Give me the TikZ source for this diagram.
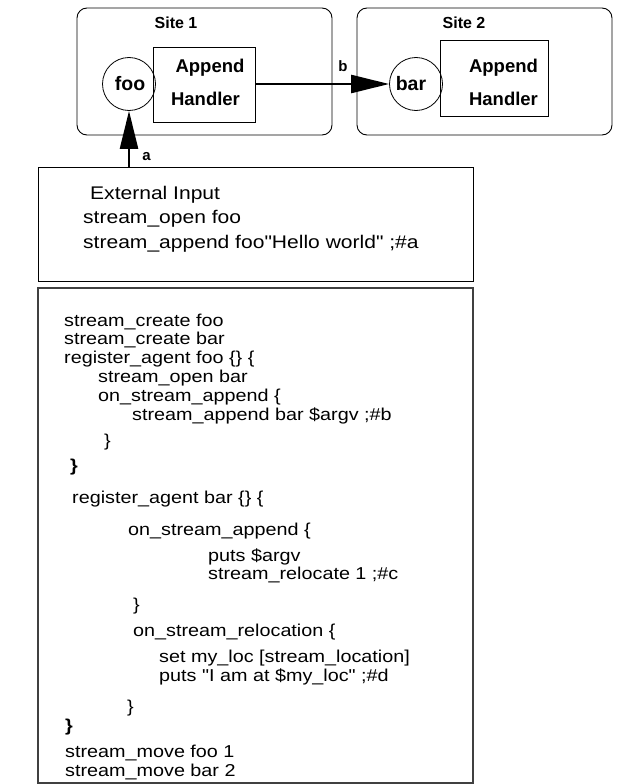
\documentclass[tikz,border=0pt]{standalone}
\usepackage{fontspec}
\setmainfont{Liberation Sans}
\newfontfamily\codefont[FakeStretch=1.15]{Liberation Sans}
\usetikzlibrary{arrows.meta}

\tikzset{
  site/.style={draw, line width=0.9pt, rounded corners=10pt},
  handler/.style={draw, line width=0.9pt},
  stream/.style={draw, circle, line width=0.8pt, minimum size=53pt, inner sep=0pt},
  lbl/.style={font=\bfseries\fontsize{16}{18}\selectfont, inner sep=0pt, anchor=base},
  hlbl/.style={font=\bfseries\fontsize{18.5}{20}\selectfont, inner sep=0pt, anchor=base},
  flow/.style={line width=2.4pt, -{Triangle[length=38pt, width=18pt]}},
  panel/.style={draw, line width=1pt},
  codepanel/.style={draw=black!75, line width=1.4pt},
  ext/.style={font=\codefont\fontsize{18.3}{20}\selectfont, inner sep=0pt, anchor=base west},
  code/.style={font=\codefont\fontsize{17.2}{18}\selectfont, inner sep=0pt, anchor=base west},
}

\begin{document}
\begin{tikzpicture}[x=1pt, y=-1pt]
\useasboundingbox (0,0) rectangle (636,784);

% sites
\draw[site] (77,8) rectangle (332,135);
\draw[site] (357,8) rectangle (612,135);
\node[lbl] (s1) at (176,28.3) {Site 1};
\node[lbl] (s2) at (464,28.3) {Site 2};

% append handlers
\node[handler, minimum width=102pt, minimum height=75pt] (h1) at (204,84.5) {};
\node[handler, minimum width=108pt, minimum height=76pt] (h2) at (494,78) {};
\node[hlbl] (h1a) at (210,72.7) {Append};
\node[hlbl] (h1b) at (205.5,105) {Handler};
\node[hlbl] (h2a) at (503.5,72.7) {Append};
\node[hlbl] (h2b) at (503.5,105) {Handler};

% streams
\node[stream] (foo) at (129,84) {};
\node[stream] (bar) at (416,84) {};
\node[hlbl, font=\bfseries\fontsize{19.5}{20}\selectfont] (fool) at (130,90.7) {foo};
\node[hlbl, font=\bfseries\fontsize{19.5}{20}\selectfont] (barl) at (411,90.7) {bar};

% external input panel
\node[panel, minimum width=435pt, minimum height=114pt] (ext) at (255.5,224) {};

% flows
\draw[flow] (h1.east |- foo.center) -- (bar.west);
\draw[flow] (ext.north -| foo.center) -- (foo.south);
\node[lbl, font=\bfseries\fontsize{15}{16}\selectfont] (lb) at (343,71.7) {b};
\node[lbl, font=\bfseries\fontsize{15}{16}\selectfont] (la) at (146.5,160) {a};

% external input text
\node[ext] (e1) at (90,199) {External Input};
\node[ext] (e2) at (83,223) {stream\_open foo};
\node[ext] (e3) at (83,248) {stream\_append foo"Hello world" ;\#a};

% script panel
\node[codepanel, minimum width=435pt, minimum height=495pt] (script) at (255.5,535.5) {};

\node[code] (c1) at (64,326) {stream\_create foo};
\node[code] (c2) at (64,344) {stream\_create bar};
\node[code] (c3) at (64,363) {register\_agent foo \{\} \{};
\node[code] (c4) at (98,382) {stream\_open bar};
\node[code] (c5) at (98,401) {on\_stream\_append \{};
\node[code] (c6) at (132,420) {stream\_append bar \$argv ;\#b};
\node[code] (c7) at (104,446) {\}};
\node[code, font=\codefont\bfseries\fontsize{17.2}{18}\selectfont] (c8) at (70,471) {\}};
\node[code] (c9) at (72,503) {register\_agent bar \{\} \{};
\node[code] (c10) at (128,535) {on\_stream\_append \{};
\node[code] (c11) at (208,561) {puts \$argv};
\node[code] (c12) at (208,579) {stream\_relocate 1 ;\#c};
\node[code] (c13) at (133,610) {\}};
\node[code] (c14) at (133,636) {on\_stream\_relocation \{};
\node[code] (c15) at (159,662) {set my\_loc [stream\_location]};
\node[code] (c16) at (159,681) {puts "I am at \$my\_loc" ;\#d};
\node[code] (c17) at (127,712) {\}};
\node[code, font=\codefont\bfseries\fontsize{17.2}{18}\selectfont] (c18) at (65,731) {\}};
\node[code] (c19) at (65,757) {stream\_move foo 1};
\node[code] (c20) at (65,776) {stream\_move bar 2};
\end{tikzpicture}
\end{document}
